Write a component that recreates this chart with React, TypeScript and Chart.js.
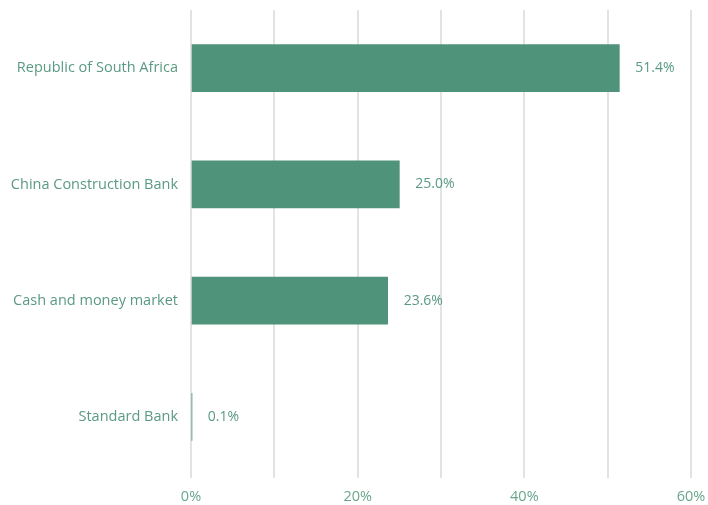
import React, { useEffect, useRef } from "react";
import { Chart, registerables } from "chart.js";

Chart.register(...registerables);

const categories = [
  "Republic of South Africa",
  "China Construction Bank",
  "Cash and money market",
  "Standard Bank",
];
const values = [51.4, 25.0, 23.6, 0.1];
const xTicks = [0, 20, 40, 60];

const BAR = "#4e937a";
const TEXT = "#5a9a82";
const FONT = "'Open Sans', 'Noto Sans', sans-serif";

const valueLabels = {
  id: "valueLabels",
  afterDatasetsDraw(chart: any) {
    const ctx = chart.ctx;
    const meta = chart.getDatasetMeta(0);
    ctx.save();
    ctx.fillStyle = TEXT;
    ctx.font = `14px ${FONT}`;
    ctx.textAlign = "left";
    ctx.textBaseline = "middle";
    meta.data.forEach((bar: any, i: number) => {
      ctx.fillText(values[i].toFixed(1) + "%", bar.x + 16, bar.y);
    });
    ctx.restore();
  },
};

export default function App() {
  const ref = useRef<HTMLCanvasElement>(null);
  useEffect(() => {
    if (!ref.current) return;
    const chart = new Chart(ref.current, {
      type: "bar",
      data: {
        labels: categories,
        datasets: [
          {
            data: values,
            backgroundColor: BAR,
            borderWidth: 0,
            barThickness: 47,
          },
        ],
      },
      options: {
        indexAxis: "y",
        animation: false,
        responsive: false,
        maintainAspectRatio: false,
        layout: { padding: { top: 10, right: 17, left: 0, bottom: 0 } },
        plugins: { legend: { display: false }, tooltip: { enabled: false } },
        scales: {
          x: {
            min: 0,
            max: 60,
            border: { display: false },
            grid: { color: "#e3e3e3", lineWidth: 2, tickLength: 3, drawTicks: true },
            ticks: {
              stepSize: 10,
              autoSkip: false,
              maxRotation: 0,
              padding: 10,
              color: "#6aa68d",
              font: { family: FONT, size: 14.5 },
              callback: (v: any) => (xTicks.includes(Number(v)) ? v + "%" : ""),
            },
            afterFit: (axis: any) => {
              axis.height = 30;
              axis.paddingLeft = 0;
              axis.paddingRight = 0;
            },
          },
          y: {
            border: { display: false },
            grid: { display: false, drawTicks: false },
            ticks: {
              padding: 13,
              color: TEXT,
              font: { family: FONT, size: 14.5 },
            },
            afterFit: (axis: any) => {
              axis.width = 191;
              axis.paddingTop = 0;
              axis.paddingBottom = 0;
            },
          },
        },
      },
      plugins: [valueLabels],
    });
    return () => chart.destroy();
  }, []);
  return (
    <div style={{ position: "fixed", left: 0, top: 0, width: 708, height: 505, background: "#fff" }}>
      <canvas ref={ref} width={708} height={505} />
    </div>
  );
}
